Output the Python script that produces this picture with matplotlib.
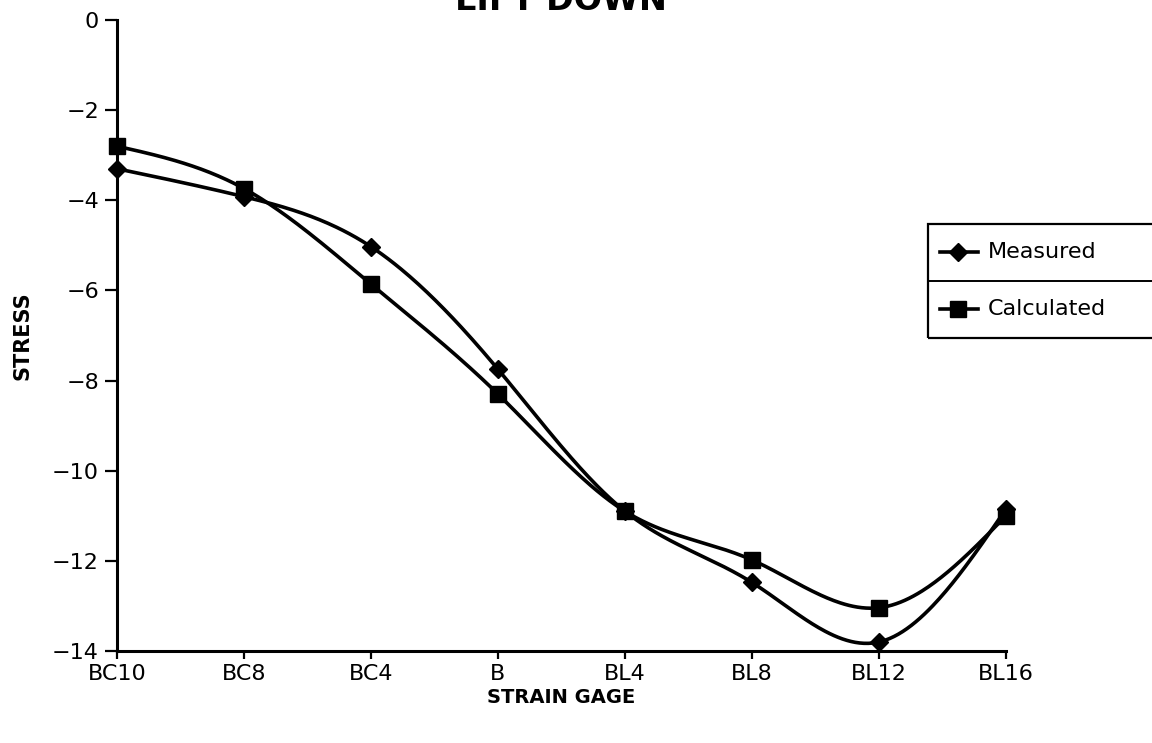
import numpy as np
import matplotlib
matplotlib.use('Agg')
import matplotlib.pyplot as plt
from matplotlib.lines import Line2D
from matplotlib.patches import Rectangle

gages = ['BC10', 'BC8', 'BC4', 'B', 'BL4', 'BL8', 'BL12', 'BL16']
measured = [-3.3, -3.92, -5.03, -7.75, -10.9, -12.48, -13.8, -10.85]
calculated = [-2.8, -3.74, -5.86, -8.3, -10.9, -11.98, -13.04, -11.0]
y_ticks = [0, -2, -4, -6, -8, -10, -12, -14]


def natural_spline(x, y, n=60):
    """Smooth curve through the points (natural cubic spline)."""
    x = np.asarray(x, float)
    y = np.asarray(y, float)
    k = len(x)
    h = np.diff(x)
    A = np.zeros((k, k))
    r = np.zeros(k)
    A[0, 0] = A[-1, -1] = 1
    for i in range(1, k - 1):
        A[i, i - 1] = h[i - 1]
        A[i, i] = 2 * (h[i - 1] + h[i])
        A[i, i + 1] = h[i]
        r[i] = 6 * ((y[i + 1] - y[i]) / h[i] - (y[i] - y[i - 1]) / h[i - 1])
    m = np.linalg.solve(A, r)
    xs, ys = [], []
    for i in range(k - 1):
        t = np.linspace(x[i], x[i + 1], n)
        a = (x[i + 1] - t) / h[i]
        b = (t - x[i]) / h[i]
        s = (a * y[i] + b * y[i + 1]
             + ((a ** 3 - a) * m[i] + (b ** 3 - b) * m[i + 1]) * h[i] ** 2 / 6)
        xs.append(t)
        ys.append(s)
    return np.concatenate(xs), np.concatenate(ys)


W, H = 1152, 743
fig = plt.figure(figsize=(W / 100, H / 100), dpi=100)
ax = fig.add_axes([117 / W, 1 - 651 / H, (1006 - 117) / W, (651 - 20) / H])

xpos = np.arange(len(gages))
lw = 2.6
for vals, mk, ms in [(measured, 'D', 9), (calculated, 's', 11)]:
    sx, sy = natural_spline(xpos, vals)
    ax.plot(sx, sy, color='black', lw=lw, clip_on=False, solid_capstyle='round')
    ax.plot(xpos, vals, linestyle='none', marker=mk, ms=ms, color='black',
            clip_on=False, zorder=5)

ax.set_xlim(0, len(gages) - 1)
ax.set_ylim(-14, 0)
ax.set_xticks(xpos)
ax.set_xticklabels(gages)
ax.set_yticks(y_ticks)
ax.set_yticklabels(['0' if v == 0 else '\u2212%d' % abs(v) for v in y_ticks])

for s in ['top', 'right']:
    ax.spines[s].set_visible(False)
for s in ['left', 'bottom']:
    ax.spines[s].set_linewidth(2.2)
ax.tick_params(axis='x', length=6, width=1.6, pad=3, labelsize=16)
ax.tick_params(axis='y', length=9, width=1.6, pad=4, labelsize=16)

ax.set_xlabel('STRAIN GAGE', fontsize=14, fontweight='bold', labelpad=3)
ax.set_ylabel('STRESS', fontsize=15, fontweight='bold', labelpad=14)

# title is cut off at the top edge of the scan
fig.text(561 / W, 1 - 10 / H, 'LIFT DOWN', ha='center', va='baseline',
         fontsize=24, fontweight='bold')

# legend box, running off the right edge
lx0, ly0, ly1, lmid = 928, 224, 338, 281
fig.add_artist(Rectangle((lx0 / W, 1 - ly1 / H), (W + 20 - lx0) / W,
                         (ly1 - ly0) / H, transform=fig.transFigure,
                         fill=False, lw=1.6, color='black'))
fig.add_artist(Line2D([lx0 / W, 1.02], [1 - lmid / H] * 2,
                      transform=fig.transFigure, lw=1.4, color='black'))
for label, mk, ms, yc in [('Measured', 'D', 9, 252), ('Calculated', 's', 11, 309)]:
    fig.add_artist(Line2D([940 / W, 978 / W], [1 - yc / H] * 2,
                          transform=fig.transFigure, lw=lw, color='black'))
    fig.add_artist(Line2D([958 / W], [1 - yc / H], transform=fig.transFigure,
                          marker=mk, ms=ms, color='black', linestyle='none'))
    fig.text(988 / W, 1 - yc / H, label, fontsize=16, va='center', ha='left')

fig.savefig('out.png', dpi=100)
